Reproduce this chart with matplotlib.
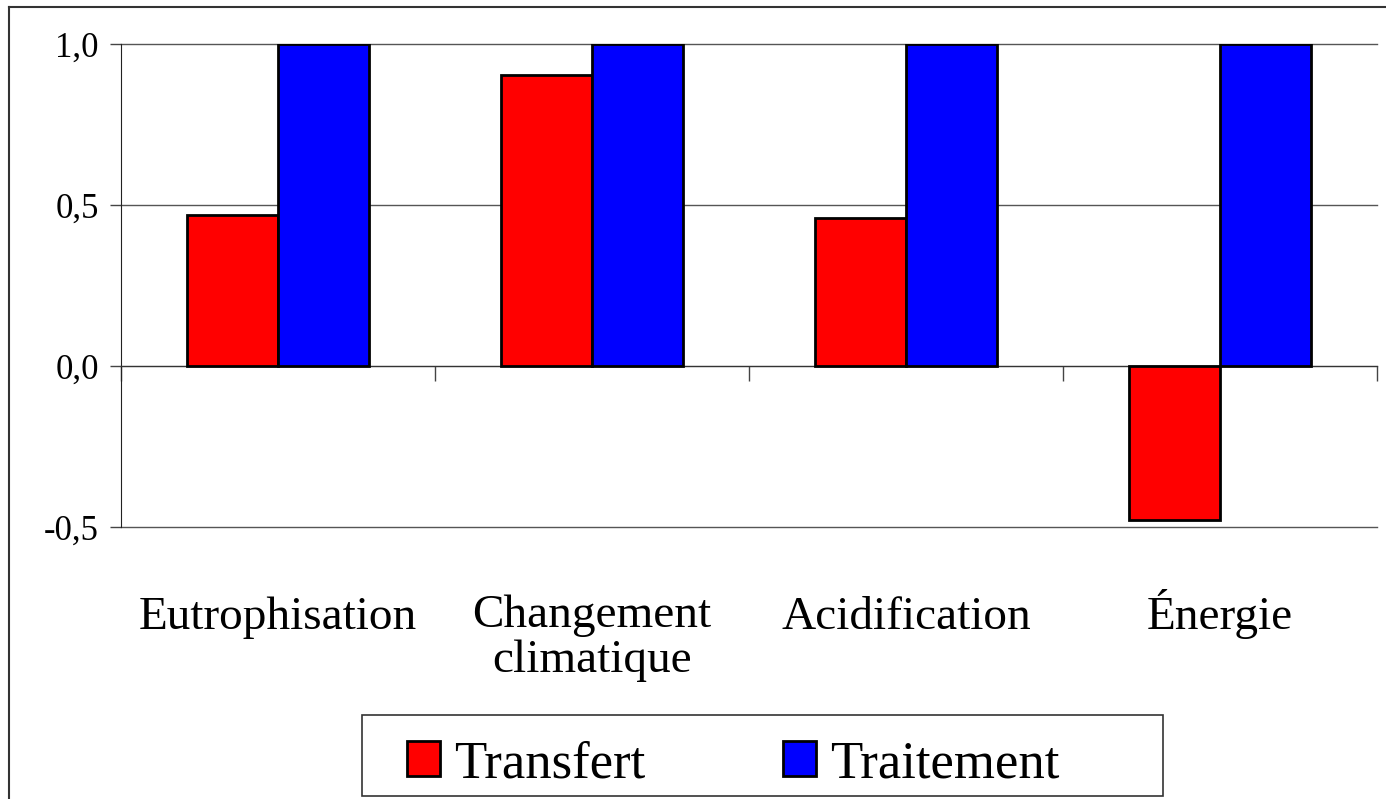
import numpy as np
import matplotlib.pyplot as plt
from matplotlib.patches import Rectangle, Patch
from matplotlib.lines import Line2D

# --- DATA ---
categories = ['Eutrophisation', 'Changement\nclimatique', 'Acidification', 'Énergie']
series = ['Transfert', 'Traitement']
transfert = [0.468, 0.904, 0.461, -0.477]
traitement = [1.0, 1.0, 1.0, 1.0]
yticks = [-0.5, 0.0, 0.5, 1.0]
ytick_labels = ['-0,5', '0,0', '0,5', '1,0']
colors = ['#ff0000', '#0000ff']

plt.rcParams['font.family'] = ['Liberation Serif', 'DejaVu Serif']

W, H = 1386, 799
fig = plt.figure(figsize=(W / 100, H / 100), dpi=100)
ax = fig.add_axes([121 / W, 1 - 527 / H, 1256 / W, 483 / H])

x = np.arange(1, len(categories) + 1)
bw = 0.29
ax.bar(x - bw / 2, transfert, bw, color=colors[0], edgecolor='black', linewidth=2, zorder=3)
ax.bar(x + bw / 2, traitement, bw, color=colors[1], edgecolor='black', linewidth=2, zorder=3)

ax.set_xlim(0.5, len(categories) + 0.5)
ax.set_ylim(-0.5, 1.0)

# y axis
ax.set_yticks(yticks, ytick_labels, fontsize=25)
ax.tick_params(axis='y', length=8, width=1, color='#444', pad=8)
ax.yaxis.grid(True, color='#555', linewidth=1)
for gl in ax.get_ygridlines():
    gl.set_clip_on(False)
ax.set_axisbelow(True)

# x axis sits on the zero line, ticks between categories
ax.spines['bottom'].set_position(('data', 0))
ax.spines['bottom'].set_color('#333')
ax.spines['top'].set_visible(False)
ax.spines['right'].set_visible(False)
ax.spines['left'].set_color('#222')
ax.set_xticks(np.arange(0.5, len(categories) + 1, 1.0), [''] * (len(categories) + 1))
ax.tick_params(axis='x', direction='out', length=11, width=1, color='#444')

# category names below the plot; baseline of the last line is the anchor
line_step = 43 / 483
for xi, lab in zip(x, categories):
    n = lab.count('\n')
    ax.text(xi, -0.211 - n * line_step, lab, transform=ax.get_xaxis_transform(),
            ha='center', va='baseline', fontsize=34, linespacing=1.06)

# legend
handles = [Patch(facecolor=c, edgecolor='black', linewidth=2) for c in colors]
fig.legend(handles, series, loc='center left', bbox_to_anchor=(407 / W, 1 - 764 / H),
           ncol=2, frameon=False, fontsize=38, handlelength=0.62, handleheight=0.62,
           handletextpad=0.28, columnspacing=2.6, borderpad=0, borderaxespad=0)
fig.add_artist(Rectangle((362 / W, 1 - 796 / H), 801 / W, 81 / H, transform=fig.transFigure,
                         fill=False, edgecolor='#333', linewidth=1.2))

# outer frame
fig.add_artist(Line2D([9 / W, 1], [1 - 7 / H] * 2, transform=fig.transFigure, color='#333', lw=1.5))
fig.add_artist(Line2D([9 / W] * 2, [0, 1 - 7 / H], transform=fig.transFigure, color='#333', lw=1.5))

fig.savefig('out.png', dpi=100)
